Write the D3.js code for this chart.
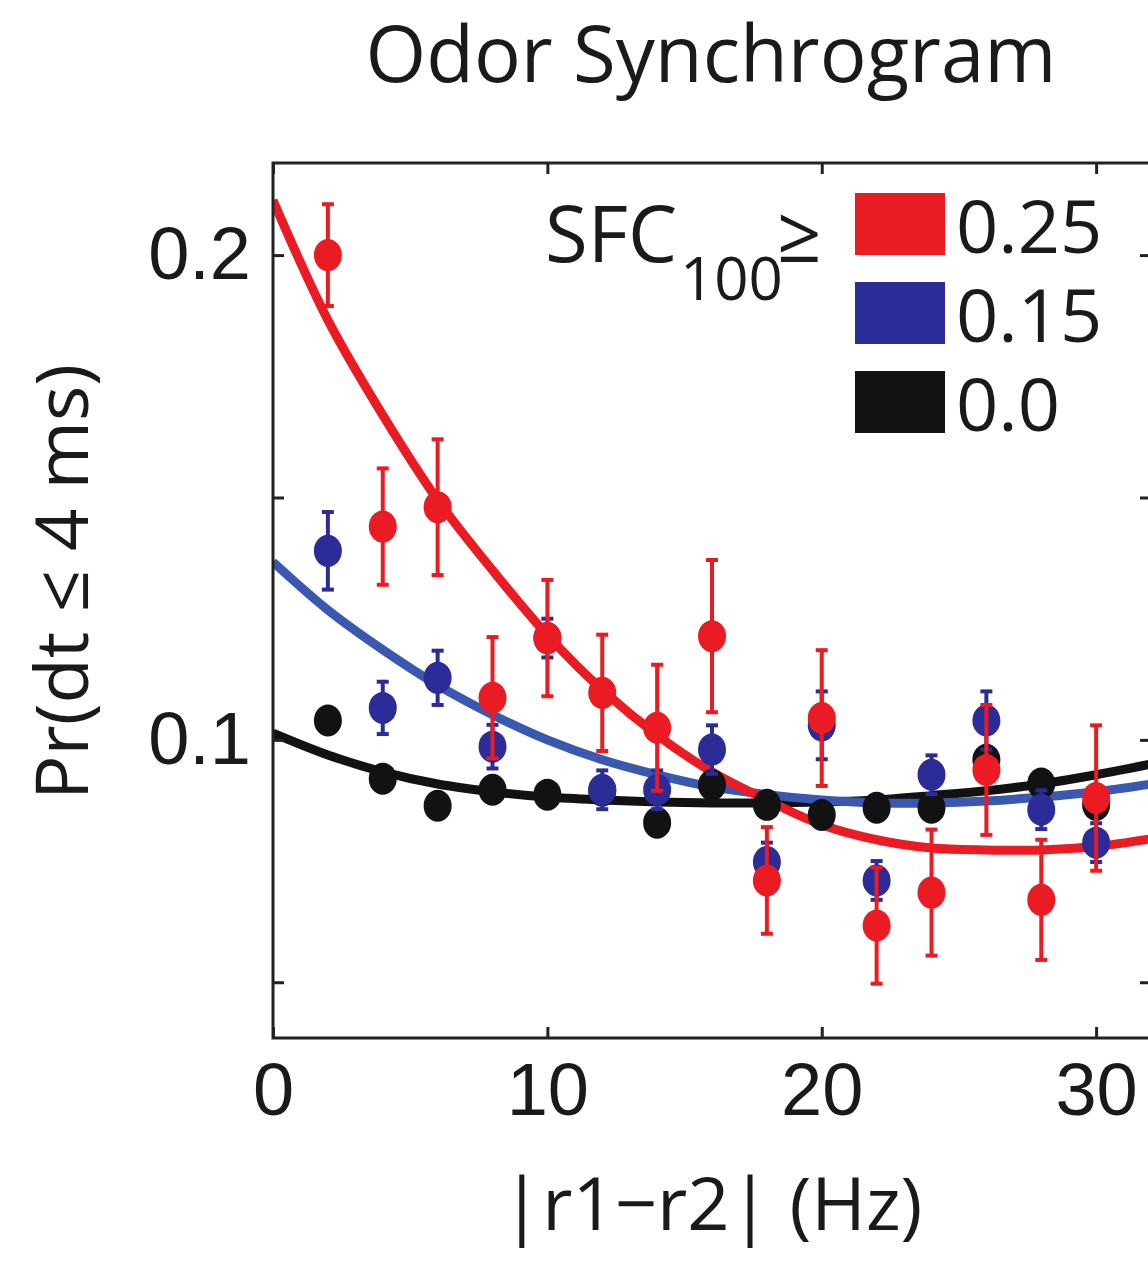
<!DOCTYPE html>
<html>
<head>
<meta charset="utf-8">
<script src="https://cdn.jsdelivr.net/npm/d3@7"></script>
<style>
  body { margin: 0; background: #fff; }
  svg { display: block; font-family: "Open Sans", "Noto Sans", sans-serif; }
</style>
</head>
<body>
<div id="chart"></div>
<script>
// data
const xBins = [2, 4, 6, 8, 10, 12, 14, 16, 18, 20, 22, 24, 26, 28, 30];

const redVals  = [0.200, 0.144, 0.148, 0.1087, 0.121, 0.1097, 0.1025, 0.1214, 0.071, 0.1045, 0.0617, 0.0685, 0.0938, 0.067, 0.088];
const redErr   = [0.0105, 0.012, 0.014, 0.0125, 0.012, 0.012, 0.013, 0.0157, 0.011, 0.014, 0.012, 0.013, 0.0134, 0.0124, 0.015];
const blueVals = [0.139, 0.1066, 0.1128, 0.0986, 0.121, 0.0897, 0.0897, 0.098, 0.0748, 0.103, 0.071, 0.0928, 0.104, 0.0856, 0.0788];
const blueErr  = [0.008, 0.0054, 0.0056, 0.0045, 0.004, 0.004, 0.004, 0.005, 0.004, 0.007, 0.004, 0.004, 0.006, 0.004, 0.004];
const blackVals = [0.104, 0.092, 0.0864, 0.0897, 0.0887, 0.0895, 0.0829, 0.0907, 0.0866, 0.0845, 0.086, 0.086, 0.0959, 0.091, 0.0866];

// fitted curves
const fitX     = [0, 2, 4, 6, 8, 10, 12, 14, 16, 18, 20, 22, 24, 26, 28, 30, 32];
const redFit   = [0.2113, 0.1866, 0.167, 0.1495, 0.135, 0.1216, 0.1103, 0.101, 0.0934, 0.0876, 0.0825, 0.0794, 0.0777, 0.0773, 0.0773, 0.078, 0.0796];
const blueFit  = [0.1367, 0.1268, 0.1186, 0.1113, 0.1052, 0.100, 0.0959, 0.0928, 0.0903, 0.0887, 0.0876, 0.087, 0.087, 0.0874, 0.0882, 0.0893, 0.0909];
const blackFit = [0.1014, 0.0969, 0.0934, 0.0909, 0.0893, 0.0882, 0.0876, 0.0872, 0.087, 0.087, 0.0872, 0.0876, 0.0885, 0.0895, 0.0909, 0.0928, 0.095];

const legendLabels = ['0.25', '0.15', '0.0'];
const xTicks = [0, 10, 20, 30];
const yTicks = [0.05, 0.1, 0.15, 0.2];
const yLabelled = [0.1, 0.2];

const W = 1148, H = 1263;
const mLeft = 273, mRight = 1151, mTop = 163, mBottom = 1038;

const RED = '#ea1b22', BLUE = '#2b2c98', BLUELINE = '#3b58b0', BLACK = '#121212';
const INK = '#1a1a1a';

const svg = d3.select('#chart').append('svg')
  .attr('width', W).attr('height', H);

const x = d3.scaleLinear().domain([0, 32]).range([mLeft, mRight]);
const y = d3.scaleLinear().domain([0.0385, 0.219]).range([mBottom, mTop]);

// title
svg.append('text')
  .attr('x', 711).attr('y', 82)
  .attr('text-anchor', 'middle')
  .attr('font-size', 78)
  .attr('fill', INK)
  .text('Odor Synchrogram');

svg.append('defs').append('clipPath').attr('id', 'clip')
  .append('rect').attr('x', mLeft).attr('y', mTop).attr('width', mRight - mLeft).attr('height', mBottom - mTop);

const plot = svg.append('g').attr('clip-path', 'url(#clip)');

// axes: ticks point inward on all sides
const tickLen = 11;
svg.append('g')
  .attr('transform', `translate(0,${mBottom})`)
  .call(d3.axisBottom(x).tickValues(xTicks).tickSizeInner(-tickLen).tickSizeOuter(0).tickPadding(24))
  .call(g => g.select('.domain').remove())
  .call(g => g.selectAll('text').attr('font-size', 74).attr('fill', INK).attr('dy', '0.71em'));

svg.append('g')
  .attr('transform', `translate(0,${mTop})`)
  .call(d3.axisTop(x).tickValues(xTicks).tickSizeInner(-tickLen).tickSizeOuter(0).tickFormat(''))
  .call(g => g.select('.domain').remove());

svg.append('g')
  .attr('transform', `translate(${mLeft},0)`)
  .call(d3.axisLeft(y).tickValues(yTicks).tickSizeInner(-tickLen).tickSizeOuter(0).tickPadding(22)
    .tickFormat(d => yLabelled.some(v => Math.abs(v - d) < 1e-9) ? d3.format('.1f')(d) : ''))
  .call(g => g.select('.domain').remove())
  .call(g => g.selectAll('text').attr('font-size', 74).attr('fill', INK));

svg.append('g')
  .attr('transform', `translate(${mRight},0)`)
  .call(d3.axisRight(y).tickValues(yTicks).tickSizeInner(-tickLen).tickSizeOuter(0).tickFormat(''))
  .call(g => g.select('.domain').remove());

svg.selectAll('.tick line').attr('stroke', '#222').attr('stroke-width', 3);

svg.append('rect')
  .attr('x', mLeft).attr('y', mTop).attr('width', mRight - mLeft).attr('height', mBottom - mTop)
  .attr('fill', 'none').attr('stroke', '#222').attr('stroke-width', 3);

// axis labels
svg.append('text')
  .attr('x', 712).attr('y', 1230)
  .attr('text-anchor', 'middle')
  .attr('font-size', 74)
  .attr('fill', INK)
  .text('|r1\u2212r2| (Hz)');

svg.append('text')
  .attr('transform', 'translate(88,582) rotate(-90)')
  .attr('text-anchor', 'middle')
  .attr('font-size', 74)
  .attr('fill', INK)
  .text('Pr(dt \u2264 4 ms)');

// fitted lines
const line = d3.line().x((d, i) => x(fitX[i])).y(d => y(d)).curve(d3.curveCatmullRom);

plot.append('path').datum(blackFit).attr('d', line)
  .attr('fill', 'none').attr('stroke', BLACK).attr('stroke-width', 9);
plot.append('path').datum(blueFit).attr('d', line)
  .attr('fill', 'none').attr('stroke', BLUELINE).attr('stroke-width', 9);
plot.append('path').datum(redFit).attr('d', line)
  .attr('fill', 'none').attr('stroke', RED).attr('stroke-width', 9);

// points with error bars
function drawSeries(vals, errs, color, capW, barW) {
  const g = plot.append('g');
  const pts = xBins.map((b, i) => ({ x: b, v: vals[i], e: errs ? errs[i] : 0 }));
  if (errs) {
    g.selectAll('line.bar').data(pts).join('line')
      .attr('x1', d => x(d.x)).attr('x2', d => x(d.x))
      .attr('y1', d => y(d.v - d.e)).attr('y2', d => y(d.v + d.e))
      .attr('stroke', color).attr('stroke-width', barW);
    [-1, 1].forEach(s => {
      g.selectAll(null).data(pts).join('line')
        .attr('x1', d => x(d.x) - capW / 2).attr('x2', d => x(d.x) + capW / 2)
        .attr('y1', d => y(d.v + s * d.e)).attr('y2', d => y(d.v + s * d.e))
        .attr('stroke', color).attr('stroke-width', barW);
    });
  }
  g.selectAll('ellipse').data(pts).join('ellipse')
    .attr('cx', d => x(d.x)).attr('cy', d => y(d.v))
    .attr('rx', 14).attr('ry', 16)
    .attr('fill', color);
}

drawSeries(blackVals, null, BLACK, 0, 0);
drawSeries(blueVals, blueErr, BLUE, 12, 4);
drawSeries(redVals, redErr, RED, 12, 4);

// legend
const lg = svg.append('g');
lg.append('text')
  .attr('x', 545).attr('y', 262)
  .attr('font-size', 78)
  .attr('fill', INK)
  .text('SFC');
lg.append('text')
  .attr('x', 680).attr('y', 300)
  .attr('font-size', 60)
  .attr('fill', INK)
  .text('100');
lg.append('text')
  .attr('x', 777).attr('y', 262)
  .attr('font-size', 78)
  .attr('fill', INK)
  .text('\u2265');

const legColors = [RED, BLUE, BLACK];
legendLabels.forEach((lab, i) => {
  lg.append('rect')
    .attr('x', 855).attr('y', 193 + i * 89)
    .attr('width', 90).attr('height', 62)
    .attr('fill', legColors[i]);
  lg.append('text')
    .attr('x', 956).attr('y', 226 + i * 89)
    .attr('dy', '0.36em')
    .attr('font-size', 74)
    .attr('fill', INK)
    .text(lab);
});
</script>
</body>
</html>
